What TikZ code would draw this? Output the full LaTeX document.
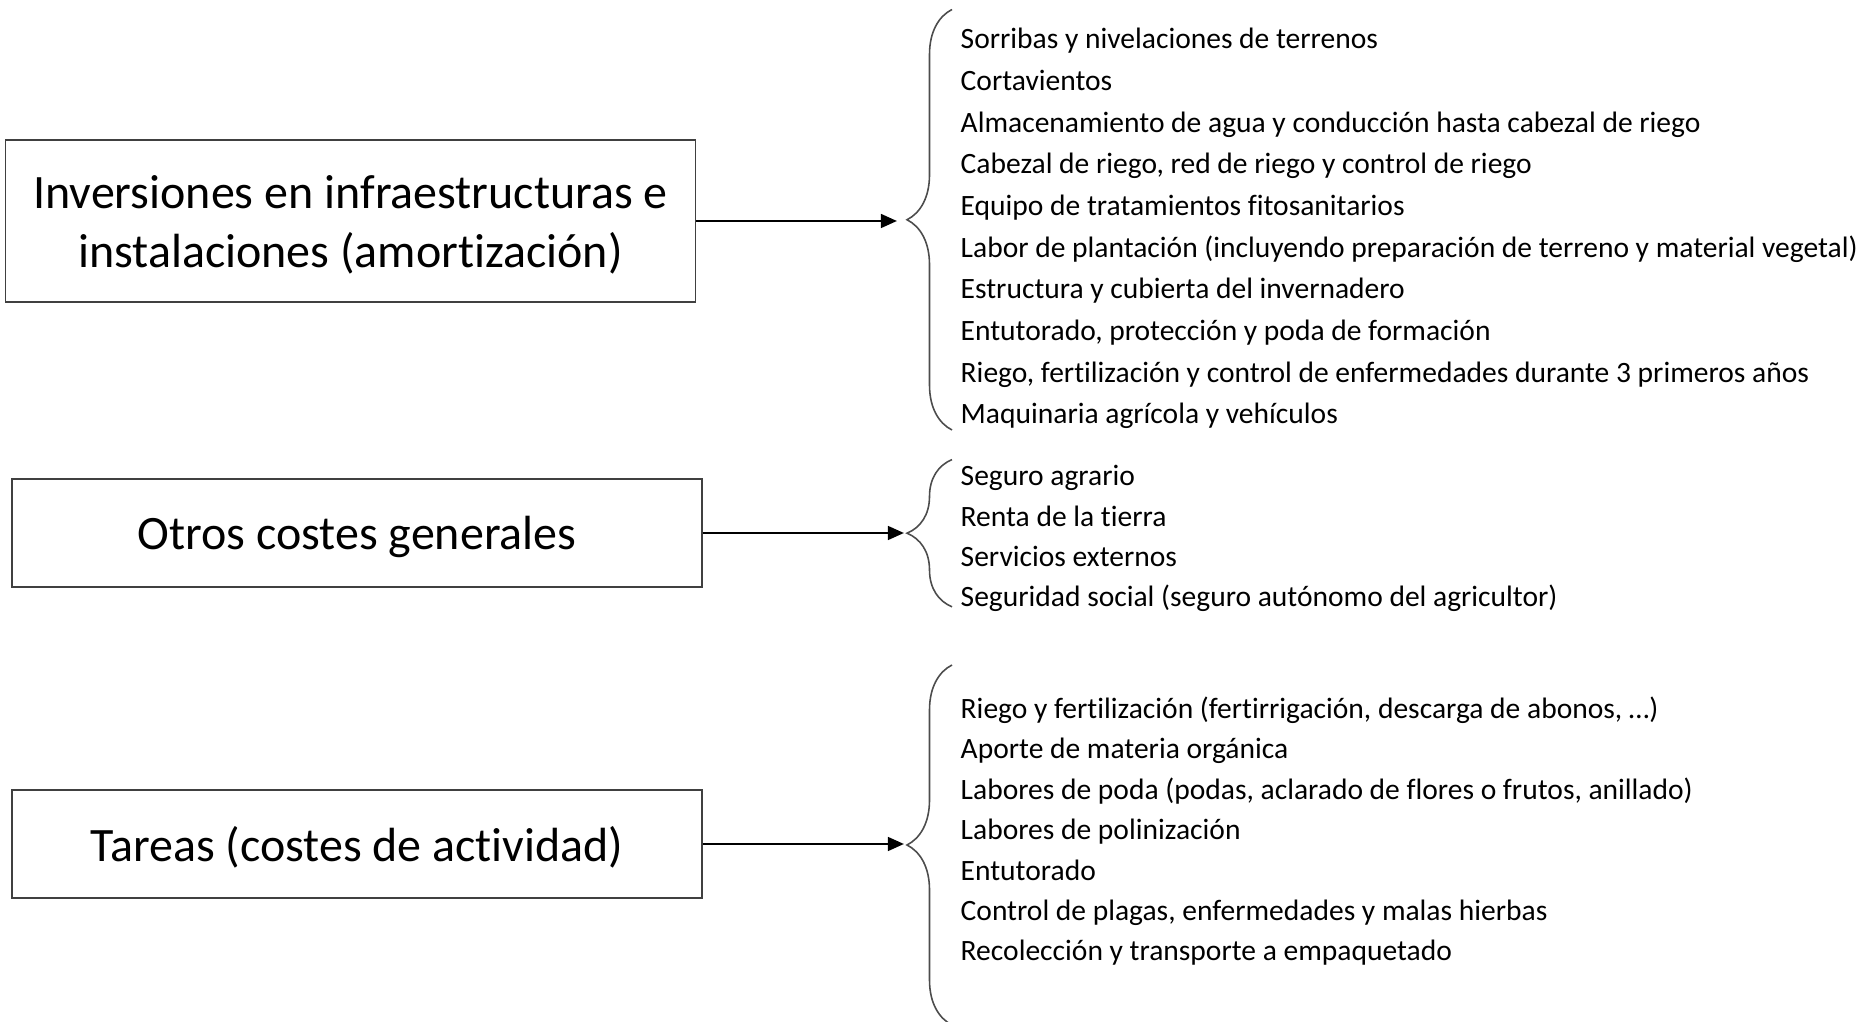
\documentclass[tikz,border=0pt]{standalone}
\usepackage{fontspec}
\setmainfont[RawFeature=-liga]{Carlito}
\usetikzlibrary{arrows.meta,decorations.pathreplacing}

\begin{document}
\begin{tikzpicture}[>={Triangle[length=4.6pt,width=3.9pt]},
    costbox/.style={draw=black!75, line width=0.45pt, minimum width=6.9cm, align=center, inner sep=0pt, font=\fontsize{13.65}{16.8}\selectfont},
    itemlist/.style={anchor=west, align=left, inner sep=0pt},
    bracket/.style={draw=black!70, line width=0.45pt, decorate, decoration={brace, amplitude=0.45cm}},
    link/.style={->, line width=0.75pt}]
    \useasboundingbox (0,0) rectangle (18.62,10.22);

    % Cost groups on the left
    \node[costbox, minimum height=1.62cm] (inv) at (3.505,8.01) {\raisebox{-1.2pt}[\height][\depth]{\parbox{6.8cm}{\centering Inversiones en infraestructuras e\\instalaciones (amortización)}}};
    \node[costbox, minimum height=1.08cm] (otros) at (3.57,4.89) {\raisebox{-1pt}[\height][\depth]{Otros costes generales}};
    \node[costbox, minimum height=1.08cm] (tareas) at (3.57,1.78) {\raisebox{-1pt}[\height][\depth]{Tareas (costes de actividad)}};

    % Brace ends
    \coordinate (invBot) at (9.52,5.92);
    \coordinate (invTop) at (9.52,10.125);
    \coordinate (otrosBot) at (9.52,4.152);
    \coordinate (otrosTop) at (9.52,5.624);
    \coordinate (tareasBot) at (9.52,-0.03);
    \coordinate (tareasTop) at (9.52,3.57);

    % Braces
    \draw[bracket] (invBot) -- (invTop);
    \draw[bracket] (otrosBot) -- (otrosTop);
    \draw[bracket] (tareasBot) -- (tareasTop);

    % Arrows to the braces
    \coordinate (invTip) at (8.97,8.01);
    \coordinate (otrosTip) at (9.04,4.89);
    \coordinate (tareasTip) at (9.04,1.78);
    \draw[link] (inv.east) -- (invTip);
    \draw[link] (otros.east) -- (otrosTip);
    \draw[link] (tareas.east) -- (tareasTip);

    % Items of each group
    \node[itemlist, font=\fontsize{8.4}{11.86}\selectfont] (invItems) at (9.6,7.934) {Sorribas y nivelaciones de terrenos\\
        Cortavientos\\
        Almacenamiento de agua y conducción hasta cabezal de riego\\
        Cabezal de riego, red de riego y control de riego\\
        Equipo de tratamientos fitosanitarios\\
        Labor de plantación (incluyendo preparación de terreno y material vegetal)\\
        Estructura y cubierta del invernadero\\
        Entutorado, protección y poda de formación\\
        Riego, fertilización y control de enfermedades durante 3 primeros años\\
        Maquinaria agrícola y vehículos};
    \node[itemlist, font=\fontsize{8.4}{11.5}\selectfont] (otrosItems) at (9.6,4.834) {Seguro agrario\\
        Renta de la tierra\\
        Servicios externos\\
        Seguridad social (seguro autónomo del agricultor)};
    \node[itemlist, font=\fontsize{8.4}{11.5}\selectfont] (tareasItems) at (9.6,1.908) {Riego y fertilización (fertirrigación, descarga de abonos, …)\\
        Aporte de materia orgánica\\
        Labores de poda (podas, aclarado de flores o frutos, anillado)\\
        Labores de polinización\\
        Entutorado\\
        Control de plagas, enfermedades y malas hierbas\\
        Recolección y transporte a empaquetado};
\end{tikzpicture}
\end{document}
